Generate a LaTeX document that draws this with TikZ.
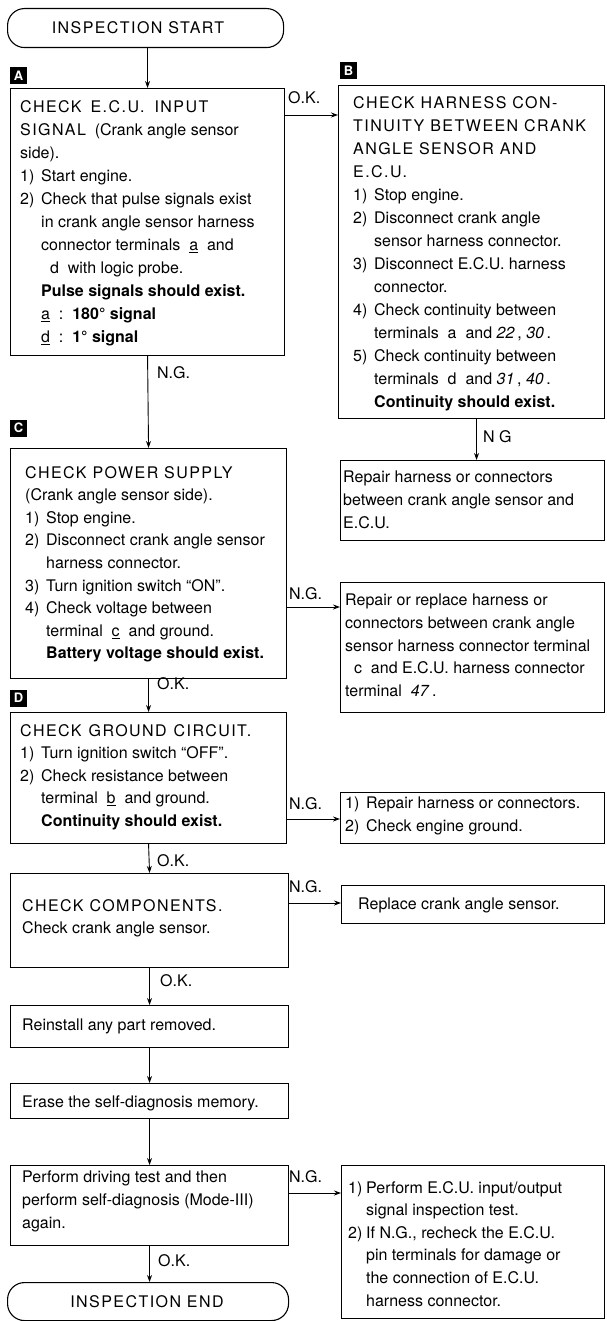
\documentclass[tikz,border=0pt]{standalone}
\usepackage{fontspec}
\setmainfont{TeX Gyre Heros}
\newfontfamily\headfont[LetterSpace=9]{TeX Gyre Heros}
\usetikzlibrary{arrows.meta,calc}
\newcommand\fs{\fontsize{16}{22.6}\selectfont}
\newcommand\fsw{\fontsize{16}{23}\selectfont}
\newcommand\nm[1]{\makebox[21pt][l]{#1}}
\newcommand\ii{\hspace*{21pt}}
\newcommand\nmb[1]{\makebox[18pt][l]{#1}}
\newcommand\iib{\hspace*{18pt}}
\newcommand\trm[1]{\underline{#1}}
\begin{document}
\begin{tikzpicture}[x=1pt,y=-1pt,
  box/.style={draw, line width=1.1pt, anchor=north west, inner sep=0pt},
  term/.style={draw, line width=1.1pt, anchor=north west, inner sep=0pt, rounded corners=17pt},
  txt/.style={font=\fs, align=left, anchor=north west, inner sep=0pt},
  lbl/.style={font=\fs, anchor=west, inner sep=0pt},
  tag/.style={fill=black, text=white, font=\fontsize{13}{13}\selectfont\bfseries, minimum size=17pt, inner sep=0pt},
  arr/.style={line width=0.9pt, -{Stealth[length=7pt,width=5pt]}},
  ln/.style={line width=0.9pt}]
\useasboundingbox (0,0) rectangle (606,1321);

% terminators
\node[term, minimum width=276pt, minimum height=39pt] (start) at (7,8) {};
\node[font=\fs, inner sep=0pt] (starttxt) at (138,28) {{\headfont INSPECTION START}};
\node[term, minimum width=281pt, minimum height=38pt] (end) at (7,1282) {};
\node[font=\fs, inner sep=0pt] (endtxt) at (147,1302) {{\headfont INSPECTION END}};

% tags
\node[tag] (tagA) at (18.5,76) {A};
\node[tag] (tagB) at (348.5,71) {B};
\node[tag] (tagC) at (18.5,428) {C};
\node[tag] (tagD) at (18.5,698) {D};

% main column boxes
\node[box, minimum width=274pt, minimum height=267pt] (A) at (10,88) {};
\node[txt, font=\fsw] (tA) at (20,100) {{\headfont CHECK\hspace{9pt}E.C.U.\hspace{10pt}INPUT}\\
{\headfont SIGNAL} \ (Crank angle sensor\\
side).\\
\nm{1)}Start engine.\\
\nm{2)}Check that pulse signals exist\\
\ii in crank angle sensor harness\\
\ii connector terminals \ \trm{a} \ and\\
\ii\ \ d \ with logic probe.\\
\ii\textbf{Pulse signals should exist.}\\
\ii\trm{a}\ \ :\ \ \textbf{180° signal}\\
\ii\trm{d}\ \ :\ \ \textbf{1° signal}};

\node[box, minimum width=266pt, minimum height=333pt] (B) at (338,85) {};
\node[txt, font=\fsw] (tB) at (353,96) {{\headfont CHECK HARNESS CON-}\\
{\headfont TINUITY BETWEEN CRANK}\\
{\headfont ANGLE SENSOR AND}\\
{\headfont E.C.U.}\\
\nm{1)}Stop engine.\\
\nm{2)}Disconnect crank angle\\
\ii sensor harness connector.\\
\nm{3)}Disconnect E.C.U. harness\\
\ii connector.\\
\nm{4)}Check continuity between\\
\ii terminals \ a \ and \textit{22}\,, \textit{30}\,.\\
\nm{5)}Check continuity between\\
\ii terminals \ d \ and \textit{31}\,, \textit{40}\,.\\
\ii\textbf{Continuity should exist.}};

\node[box, minimum width=264pt, minimum height=80pt] (R1) at (340,460) {};
\node[txt] (tR1) at (343,471) {Repair harness or connectors\\
between crank angle sensor and\\
E.C.U.};

\node[box, minimum width=276pt, minimum height=230pt] (C) at (10,448) {};
\node[txt] (tC) at (25,466) {{\headfont CHECK POWER SUPPLY}\\
(Crank angle sensor side).\\
\nm{1)}Stop engine.\\
\nm{2)}Disconnect crank angle sensor\\
\ii harness connector.\\
\nm{3)}Turn ignition switch “ON”.\\
\nm{4)}Check voltage between\\
\ii terminal \ \trm{c} \ and ground.\\
\ii\textbf{Battery voltage should exist.}};

\node[box, minimum width=264pt, minimum height=130pt] (R2) at (340,582) {};
\node[txt] (tR2) at (345,594) {Repair or replace harness or\\
connectors between crank angle\\
sensor harness connector terminal\\
\ \ c \ and E.C.U. harness connector\\
terminal \ \textit{47}\,.};

\node[box, minimum width=276pt, minimum height=131pt] (D) at (10,712) {};
\node[txt] (tD) at (20,724) {{\headfont CHECK\hspace{7pt}GROUND\hspace{7pt}CIRCUIT.}\\
\nm{1)}Turn ignition switch “OFF”.\\
\nm{2)}Check resistance between\\
\ii terminal \ \trm{b} \ and ground.\\
\ii\textbf{Continuity should exist.}};

\node[box, minimum width=264pt, minimum height=51pt] (R3) at (340,792) {};
\node[txt] (tR3) at (345,797) {\nm{1)}Repair harness or connectors.\\
\nm{2)}Check engine ground.};

\node[box, minimum width=278pt, minimum height=94pt] (E) at (10,873) {};
\node[txt] (tE) at (22,899) {{\headfont CHECK COMPONENTS.}\\
Check crank angle sensor.};

\node[box, minimum width=263pt, minimum height=38pt] (R4) at (341,885) {};
\node[txt] (tR4) at (358,898) {Replace crank angle sensor.};

\node[box, minimum width=278pt, minimum height=42pt] (F) at (10,1005) {};
\node[txt] (tF) at (22,1019) {Reinstall any part removed.};

\node[box, minimum width=278pt, minimum height=35pt] (G) at (10,1083) {};
\node[txt] (tG) at (22,1096) {Erase the self-diagnosis memory.};

\node[box, minimum width=278pt, minimum height=80pt] (H) at (10,1165) {};
\node[txt] (tH) at (22,1171) {Perform driving test and then\\
perform self-diagnosis (Mode-III)\\
again.};

\node[box, minimum width=263pt, minimum height=153pt] (R5) at (341,1165) {};
\node[txt] (tR5) at (348,1181) {\nmb{1)}Perform E.C.U. input/output\\
\iib signal inspection test.\\
\nmb{2)}If N.G., recheck the E.C.U.\\
\iib pin terminals for damage or\\
\iib the connection of E.C.U.\\
\iib harness connector.};

% vertical connectors
\draw[arr] (A.north |- start.south) -- (A.north);
\draw[arr] (A.south) -- (C.north);
\draw[arr] ([xshift=5pt]B.south) -- ([xshift=5pt]B.south |- R1.north);
\draw[arr] (C.south) -- (D.north);
\draw[arr] (D.south) -- (E.north);
\draw[arr] (E.south) -- (F.north);
\draw[arr] (F.south) -- (G.north);
\draw[arr] (G.south) -- (H.north);
\draw[arr] (H.south) -- (end.north -| H.south);

% horizontal connectors
\draw[arr] ([yshift=-27pt]A.north east) -- ([yshift=-27pt]A.north east -| B.west);
\draw[arr] ([yshift=-159pt]C.north east) -- ([yshift=-159pt]C.north east -| R2.west);
\draw[arr] ([yshift=-107pt]D.north east) -- ([yshift=-107pt]D.north east -| R3.west);
\draw[arr] ([yshift=-30pt]E.north east) -- ([yshift=-30pt]E.north east -| R4.west);
\draw[arr] ([yshift=-28pt]H.north east) -- ([yshift=-28pt]H.north east -| R5.west);

% connector labels
\node[lbl] (l1) at (288,98) {O.K.};
\node[lbl] (l2) at (157,373) {N.G.};
\node[lbl] (l3) at (483,437) {N G};
\node[lbl] (l4) at (289,594) {N.G.};
\node[lbl] (l5) at (157,684) {O.K.};
\node[lbl] (l6) at (289,804) {N.G.};
\node[lbl] (l7) at (157,861) {O.K.};
\node[lbl] (l8) at (289,887) {N.G.};
\node[lbl] (l9) at (160,981) {O.K.};
\node[lbl] (l10) at (289,1177) {N.G.};
\node[lbl] (l11) at (158,1261) {O.K.};
\end{tikzpicture}
\end{document}
